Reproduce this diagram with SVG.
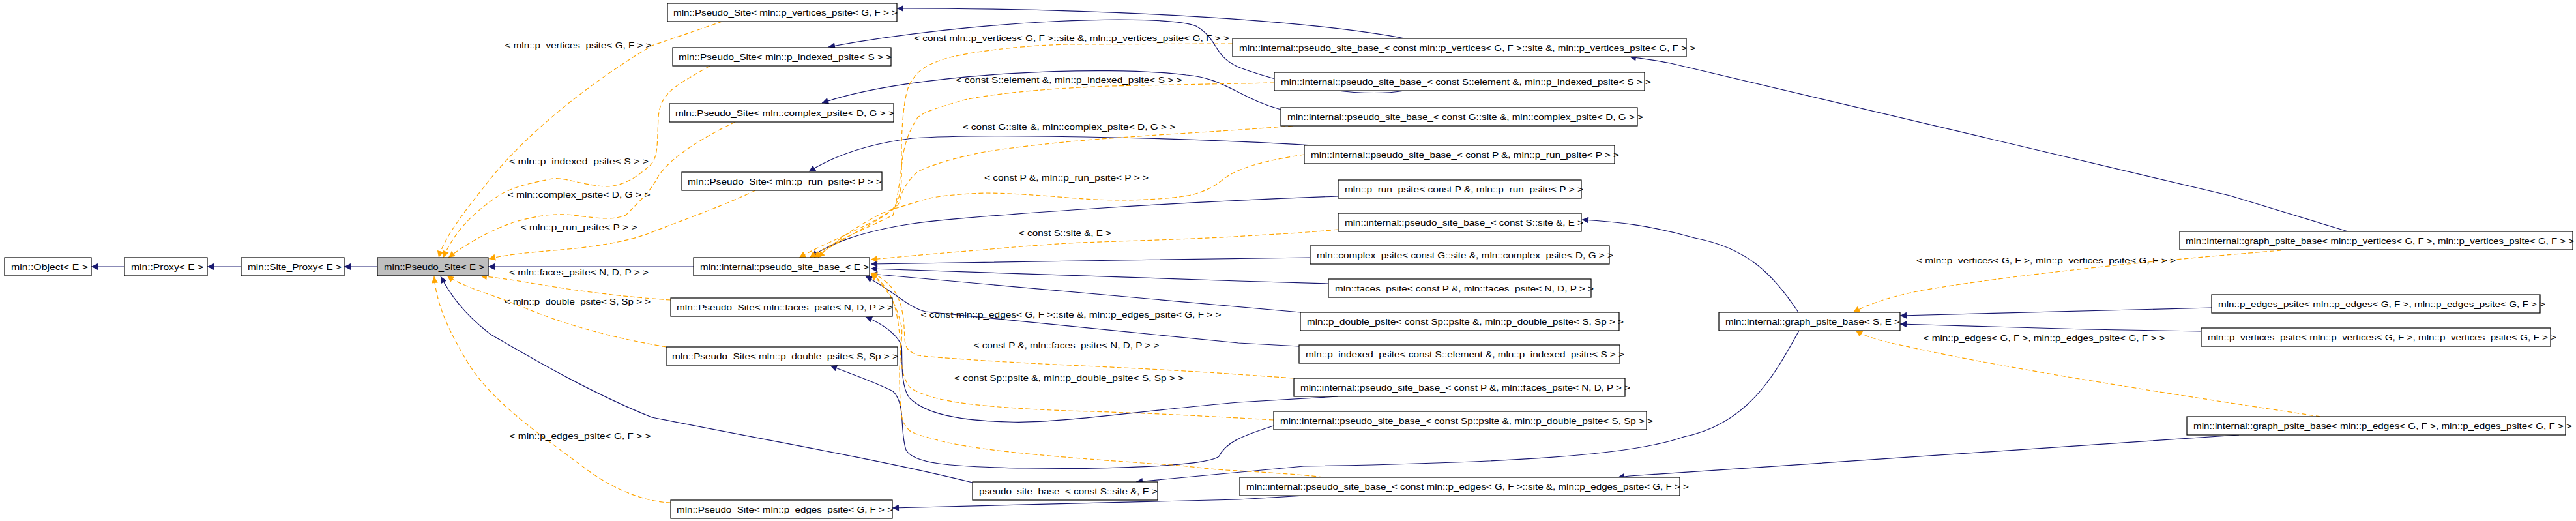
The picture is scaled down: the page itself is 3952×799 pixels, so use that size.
<svg xmlns="http://www.w3.org/2000/svg" width="3952" height="799" viewBox="0 0 3952 799">
<style>
.n rect{fill:#fff;stroke:#000;stroke-width:1.2}
.n text,.l{font-family:"Liberation Sans",Arial,sans-serif;font-size:13px;fill:#000}
.l{text-anchor:middle}
.s{fill:none;stroke:#191970;stroke-width:1.2;marker-end:url(#a)}
.d{fill:none;stroke:#ffa500;stroke-width:1.2;stroke-dasharray:7,4;marker-end:url(#b)}
</style>
<defs>
<marker id="a" viewBox="0 0 10 10" refX="10" refY="5" markerWidth="12" markerHeight="10" markerUnits="userSpaceOnUse" orient="auto"><path d="M0,0L10,5L0,10z" fill="#191970"/></marker>
<marker id="b" viewBox="0 0 10 10" refX="10" refY="5" markerWidth="12" markerHeight="10" markerUnits="userSpaceOnUse" orient="auto"><path d="M0,0L10,5L0,10z" fill="#ffa500"/></marker>
</defs>
<rect width="3952" height="799" fill="#fff"/>
<g id="edges">
<path class="s" d="M191,409L140,409"/>
<path class="s" d="M370,409L318,409"/>
<path class="s" d="M579,409L528,409"/>
<path class="s" d="M1064,409L749,409"/>
<path class="s" d="M2155,59C2000,30 1700,13 1376,13"/>
<path class="s" d="M2155,139C2100,148 2000,140 1900,103C1860,85 1870,60 1835,40C1780,20 1500,30 1271,72"/>
<path class="s" d="M1965,168C1900,150 1880,120 1820,115C1700,100 1400,110 1261,158"/>
<path class="s" d="M2015,223C1800,210 1500,205 1400,212C1320,222 1270,245 1241,263"/>
<path class="s" d="M2053,301C1800,310 1500,330 1400,343C1320,355 1270,375 1245,394"/>
<path class="s" d="M2010,395L1721,399L1336,405"/>
<path class="s" d="M2038,435L1900,431L1336,412"/>
<path class="s" d="M1995,479L1336,420"/>
<path class="s" d="M1993,531L1900,526L1420,478C1390,470 1370,445 1328,424"/>
<path class="s" d="M2053,608L1900,617C1750,630 1620,650 1548,647C1470,645 1420,635 1395,610C1380,590 1385,540 1383,530C1375,510 1350,495 1328,486"/>
<path class="s" d="M1954,653C1900,670 1880,680 1870,700C1850,715 1700,720 1574,718C1450,716 1400,710 1390,690C1380,660 1390,620 1370,600C1340,585 1310,575 1274,561"/>
<path class="s" d="M1492,740C1350,705 1200,680 1000,640C900,600 800,540 753,513C710,480 690,450 676,424"/>
<path class="s" d="M2760,507C2720,580 2680,650 2583,670C2500,700 2300,710 2000,715L1743,739"/>
<path class="s" d="M2759,479C2720,420 2680,380 2600,365C2530,345 2480,340 2427,337"/>
<path class="s" d="M3602,355L3421,300L2563,97C2540,92 2520,90 2500,87"/>
<path class="s" d="M3393,472L2915,484"/>
<path class="s" d="M3377,508L3200,505L2915,497"/>
<path class="s" d="M3435,667L2500,730L2482,732"/>
<path class="s" d="M2002,760L1900,766L1369,779"/>
<path class="d" d="M1108,33L1000,70C900,130 800,210 740,290C700,340 680,370 673,395"/>
<path class="d" d="M1089,101C1040,130 1013,140 1010,180C1008,220 1010,240 998,253C976,273 950,290 918,285C880,280 860,270 842,275C810,282 791,285 765,300C720,330 695,360 680,395"/>
<path class="d" d="M1128,187C1080,210 1030,240 1010,270C1000,290 990,300 960,330C940,338 918,335 880,330C850,326 820,332 791,340C760,350 720,370 688,395"/>
<path class="d" d="M1159,292C1100,320 1040,340 998,357C960,372 900,380 850,384C800,388 770,392 750,397"/>
<path class="d" d="M1029,460C950,455 880,445 820,435C780,428 760,426 737,423"/>
<path class="d" d="M1022,532C950,520 870,500 800,470C750,450 710,440 686,423"/>
<path class="d" d="M1029,771C990,770 940,750 900,720C820,660 760,620 720,560C690,510 670,470 666,424"/>
<path class="d" d="M1891,67L1638,68C1560,70 1485,80 1450,90C1420,100 1408,107 1395,130C1386,150 1383,200 1383,233C1383,270 1386,300 1370,320C1340,345 1270,370 1226,395"/>
<path class="d" d="M1955,127L1702,132C1600,136 1529,143 1480,153C1446,163 1420,170 1408,180C1395,200 1389,217 1385,240C1380,280 1378,300 1370,330C1330,350 1280,370 1242,395"/>
<path class="d" d="M1983,193C1900,200 1800,205 1733,210C1650,215 1560,225 1510,233C1460,243 1430,253 1408,263C1395,275 1383,290 1380,310C1370,330 1300,360 1249,395"/>
<path class="d" d="M2001,237C1950,245 1900,255 1874,277C1850,295 1830,300 1800,303C1750,308 1700,308 1650,304C1600,300 1550,296 1510,296C1460,298 1430,302 1415,307C1390,315 1370,320 1351,328C1310,350 1280,370 1255,395"/>
<path class="d" d="M2053,352C1990,358 1940,360 1893,363C1800,368 1700,370 1638,373C1580,377 1540,380 1510,383C1420,390 1380,394 1336,398"/>
<path class="d" d="M1984,580C1850,570 1750,565 1638,560C1500,553 1430,548 1408,545C1392,538 1389,533 1388,520C1386,480 1386,440 1336,418"/>
<path class="d" d="M1954,644C1850,638 1750,633 1638,630C1530,626 1460,618 1434,610C1410,603 1400,598 1395,593C1386,580 1383,567 1382,540C1378,470 1370,445 1336,419"/>
<path class="d" d="M2030,732C2000,728 1950,725 1900,722C1850,720 1830,715 1797,713C1600,700 1500,690 1446,677C1420,670 1400,665 1395,660C1385,650 1383,640 1383,633C1380,610 1380,590 1380,567C1382,530 1385,510 1383,500C1375,465 1360,440 1336,420"/>
<path class="d" d="M3500,384C3300,400 3100,420 2950,445C2900,455 2870,465 2843,479"/>
<path class="d" d="M3560,639C3300,600 3050,560 2920,530C2880,522 2860,515 2847,507"/>
</g>
<g id="labels">
<text class="l" x="887" y="74" textLength="225" lengthAdjust="spacingAndGlyphs">&lt; mln::p_vertices_psite&lt; G, F &gt; &gt;</text>
<text class="l" x="888" y="252" textLength="214" lengthAdjust="spacingAndGlyphs">&lt; mln::p_indexed_psite&lt; S &gt; &gt;</text>
<text class="l" x="888" y="303" textLength="219" lengthAdjust="spacingAndGlyphs">&lt; mln::complex_psite&lt; D, G &gt; &gt;</text>
<text class="l" x="888" y="353" textLength="179" lengthAdjust="spacingAndGlyphs">&lt; mln::p_run_psite&lt; P &gt; &gt;</text>
<text class="l" x="888" y="422" textLength="214" lengthAdjust="spacingAndGlyphs">&lt; mln::faces_psite&lt; N, D, P &gt; &gt;</text>
<text class="l" x="886" y="467" textLength="224" lengthAdjust="spacingAndGlyphs">&lt; mln::p_double_psite&lt; S, Sp &gt; &gt;</text>
<text class="l" x="890" y="673" textLength="217" lengthAdjust="spacingAndGlyphs">&lt; mln::p_edges_psite&lt; G, F &gt; &gt;</text>
<text class="l" x="1644" y="63" textLength="484" lengthAdjust="spacingAndGlyphs">&lt; const mln::p_vertices&lt; G, F &gt;::site &amp;, mln::p_vertices_psite&lt; G, F &gt; &gt;</text>
<text class="l" x="1640" y="127" textLength="347" lengthAdjust="spacingAndGlyphs">&lt; const S::element &amp;, mln::p_indexed_psite&lt; S &gt; &gt;</text>
<text class="l" x="1640" y="199" textLength="327" lengthAdjust="spacingAndGlyphs">&lt; const G::site &amp;, mln::complex_psite&lt; D, G &gt; &gt;</text>
<text class="l" x="1636" y="277" textLength="252" lengthAdjust="spacingAndGlyphs">&lt; const P &amp;, mln::p_run_psite&lt; P &gt; &gt;</text>
<text class="l" x="1634" y="362" textLength="142" lengthAdjust="spacingAndGlyphs">&lt; const S::site &amp;, E &gt;</text>
<text class="l" x="1643" y="487" textLength="461" lengthAdjust="spacingAndGlyphs">&lt; const mln::p_edges&lt; G, F &gt;::site &amp;, mln::p_edges_psite&lt; G, F &gt; &gt;</text>
<text class="l" x="1636" y="534" textLength="285" lengthAdjust="spacingAndGlyphs">&lt; const P &amp;, mln::faces_psite&lt; N, D, P &gt; &gt;</text>
<text class="l" x="1640" y="584" textLength="352" lengthAdjust="spacingAndGlyphs">&lt; const Sp::psite &amp;, mln::p_double_psite&lt; S, Sp &gt; &gt;</text>
<text class="l" x="3139" y="404" textLength="398" lengthAdjust="spacingAndGlyphs">&lt; mln::p_vertices&lt; G, F &gt;, mln::p_vertices_psite&lt; G, F &gt; &gt;</text>
<text class="l" x="3136" y="523" textLength="371" lengthAdjust="spacingAndGlyphs">&lt; mln::p_edges&lt; G, F &gt;, mln::p_edges_psite&lt; G, F &gt; &gt;</text>
</g>
<g id="n1" class="n"><rect x="7" y="395" width="133" height="28"/><text x="17" y="414" textLength="118" lengthAdjust="spacingAndGlyphs">mln::Object&lt; E &gt;</text></g>
<g id="n2" class="n"><rect x="191" y="395" width="127" height="28"/><text x="201" y="414" textLength="111" lengthAdjust="spacingAndGlyphs">mln::Proxy&lt; E &gt;</text></g>
<g id="n3" class="n"><rect x="370" y="395" width="158" height="28"/><text x="380" y="414" textLength="144" lengthAdjust="spacingAndGlyphs">mln::Site_Proxy&lt; E &gt;</text></g>
<g id="n4" class="n"><rect x="579" y="395" width="170" height="28" style="fill:#bfbfbf"/><text x="589" y="414" textLength="154" lengthAdjust="spacingAndGlyphs">mln::Pseudo_Site&lt; E &gt;</text></g>
<g id="n5" class="n"><rect x="1024" y="5" width="352" height="28"/><text x="1033" y="24" textLength="344" lengthAdjust="spacingAndGlyphs">mln::Pseudo_Site&lt; mln::p_vertices_psite&lt; G, F &gt; &gt;</text></g>
<g id="n6" class="n"><rect x="1032" y="73" width="335" height="28"/><text x="1041" y="92" textLength="327" lengthAdjust="spacingAndGlyphs">mln::Pseudo_Site&lt; mln::p_indexed_psite&lt; S &gt; &gt;</text></g>
<g id="n7" class="n"><rect x="1027" y="159" width="344" height="28"/><text x="1036" y="178" textLength="336" lengthAdjust="spacingAndGlyphs">mln::Pseudo_Site&lt; mln::complex_psite&lt; D, G &gt; &gt;</text></g>
<g id="n8" class="n"><rect x="1046" y="264" width="307" height="28"/><text x="1055" y="283" textLength="298" lengthAdjust="spacingAndGlyphs">mln::Pseudo_Site&lt; mln::p_run_psite&lt; P &gt; &gt;</text></g>
<g id="n9" class="n"><rect x="1064" y="395" width="270" height="28"/><text x="1074" y="414" textLength="259" lengthAdjust="spacingAndGlyphs">mln::internal::pseudo_site_base_&lt; E &gt;</text></g>
<g id="n10" class="n"><rect x="1029" y="457" width="340" height="28"/><text x="1038" y="476" textLength="332" lengthAdjust="spacingAndGlyphs">mln::Pseudo_Site&lt; mln::faces_psite&lt; N, D, P &gt; &gt;</text></g>
<g id="n11" class="n"><rect x="1022" y="532" width="355" height="28"/><text x="1031" y="551" textLength="347" lengthAdjust="spacingAndGlyphs">mln::Pseudo_Site&lt; mln::p_double_psite&lt; S, Sp &gt; &gt;</text></g>
<g id="n12" class="n"><rect x="1492" y="739" width="284" height="28"/><text x="1502" y="758" textLength="274" lengthAdjust="spacingAndGlyphs">pseudo_site_base_&lt; const S::site &amp;, E &gt;</text></g>
<g id="n13" class="n"><rect x="1029" y="767" width="340" height="28"/><text x="1038" y="786" textLength="332" lengthAdjust="spacingAndGlyphs">mln::Pseudo_Site&lt; mln::p_edges_psite&lt; G, F &gt; &gt;</text></g>
<g id="n14" class="n"><rect x="1891" y="59" width="696" height="28"/><text x="1901" y="78" textLength="700" lengthAdjust="spacingAndGlyphs">mln::internal::pseudo_site_base_&lt; const mln::p_vertices&lt; G, F &gt;::site &amp;, mln::p_vertices_psite&lt; G, F &gt; &gt;</text></g>
<g id="n15" class="n"><rect x="1955" y="111" width="568" height="28"/><text x="1965" y="130" textLength="568" lengthAdjust="spacingAndGlyphs">mln::internal::pseudo_site_base_&lt; const S::element &amp;, mln::p_indexed_psite&lt; S &gt; &gt;</text></g>
<g id="n16" class="n"><rect x="1965" y="165" width="547" height="28"/><text x="1975" y="184" textLength="546" lengthAdjust="spacingAndGlyphs">mln::internal::pseudo_site_base_&lt; const G::site &amp;, mln::complex_psite&lt; D, G &gt; &gt;</text></g>
<g id="n17" class="n"><rect x="2001" y="223" width="476" height="28"/><text x="2011" y="242" textLength="473" lengthAdjust="spacingAndGlyphs">mln::internal::pseudo_site_base_&lt; const P &amp;, mln::p_run_psite&lt; P &gt; &gt;</text></g>
<g id="n18" class="n"><rect x="2053" y="276" width="373" height="28"/><text x="2063" y="295" textLength="366" lengthAdjust="spacingAndGlyphs">mln::p_run_psite&lt; const P &amp;, mln::p_run_psite&lt; P &gt; &gt;</text></g>
<g id="n19" class="n"><rect x="2053" y="327" width="373" height="28"/><text x="2063" y="346" textLength="366" lengthAdjust="spacingAndGlyphs">mln::internal::pseudo_site_base_&lt; const S::site &amp;, E &gt;</text></g>
<g id="n20" class="n"><rect x="2010" y="377" width="459" height="28"/><text x="2020" y="396" textLength="455" lengthAdjust="spacingAndGlyphs">mln::complex_psite&lt; const G::site &amp;, mln::complex_psite&lt; D, G &gt; &gt;</text></g>
<g id="n21" class="n"><rect x="2038" y="428" width="403" height="28"/><text x="2048" y="447" textLength="397" lengthAdjust="spacingAndGlyphs">mln::faces_psite&lt; const P &amp;, mln::faces_psite&lt; N, D, P &gt; &gt;</text></g>
<g id="n22" class="n"><rect x="1995" y="479" width="489" height="28"/><text x="2005" y="498" textLength="486" lengthAdjust="spacingAndGlyphs">mln::p_double_psite&lt; const Sp::psite &amp;, mln::p_double_psite&lt; S, Sp &gt; &gt;</text></g>
<g id="n23" class="n"><rect x="1993" y="529" width="492" height="28"/><text x="2003" y="548" textLength="489" lengthAdjust="spacingAndGlyphs">mln::p_indexed_psite&lt; const S::element &amp;, mln::p_indexed_psite&lt; S &gt; &gt;</text></g>
<g id="n24" class="n"><rect x="1985" y="580" width="508" height="28"/><text x="1995" y="599" textLength="506" lengthAdjust="spacingAndGlyphs">mln::internal::pseudo_site_base_&lt; const P &amp;, mln::faces_psite&lt; N, D, P &gt; &gt;</text></g>
<g id="n25" class="n"><rect x="1954" y="631" width="572" height="28"/><text x="1964" y="650" textLength="572" lengthAdjust="spacingAndGlyphs">mln::internal::pseudo_site_base_&lt; const Sp::psite &amp;, mln::p_double_psite&lt; S, Sp &gt; &gt;</text></g>
<g id="n26" class="n"><rect x="1902" y="732" width="675" height="28"/><text x="1912" y="751" textLength="679" lengthAdjust="spacingAndGlyphs">mln::internal::pseudo_site_base_&lt; const mln::p_edges&lt; G, F &gt;::site &amp;, mln::p_edges_psite&lt; G, F &gt; &gt;</text></g>
<g id="n27" class="n"><rect x="2637" y="479" width="278" height="28"/><text x="2647" y="498" textLength="268" lengthAdjust="spacingAndGlyphs">mln::internal::graph_psite_base&lt; S, E &gt;</text></g>
<g id="n28" class="n"><rect x="3344" y="355" width="603" height="28"/><text x="3353" y="374" textLength="596" lengthAdjust="spacingAndGlyphs">mln::internal::graph_psite_base&lt; mln::p_vertices&lt; G, F &gt;, mln::p_vertices_psite&lt; G, F &gt; &gt;</text></g>
<g id="n29" class="n"><rect x="3393" y="452" width="504" height="28"/><text x="3403" y="471" textLength="502" lengthAdjust="spacingAndGlyphs">mln::p_edges_psite&lt; mln::p_edges&lt; G, F &gt;, mln::p_edges_psite&lt; G, F &gt; &gt;</text></g>
<g id="n30" class="n"><rect x="3377" y="503" width="536" height="28"/><text x="3387" y="522" textLength="535" lengthAdjust="spacingAndGlyphs">mln::p_vertices_psite&lt; mln::p_vertices&lt; G, F &gt;, mln::p_vertices_psite&lt; G, F &gt; &gt;</text></g>
<g id="n31" class="n"><rect x="3355" y="639" width="581" height="28"/><text x="3365" y="658" textLength="581" lengthAdjust="spacingAndGlyphs">mln::internal::graph_psite_base&lt; mln::p_edges&lt; G, F &gt;, mln::p_edges_psite&lt; G, F &gt; &gt;</text></g>
</svg>
